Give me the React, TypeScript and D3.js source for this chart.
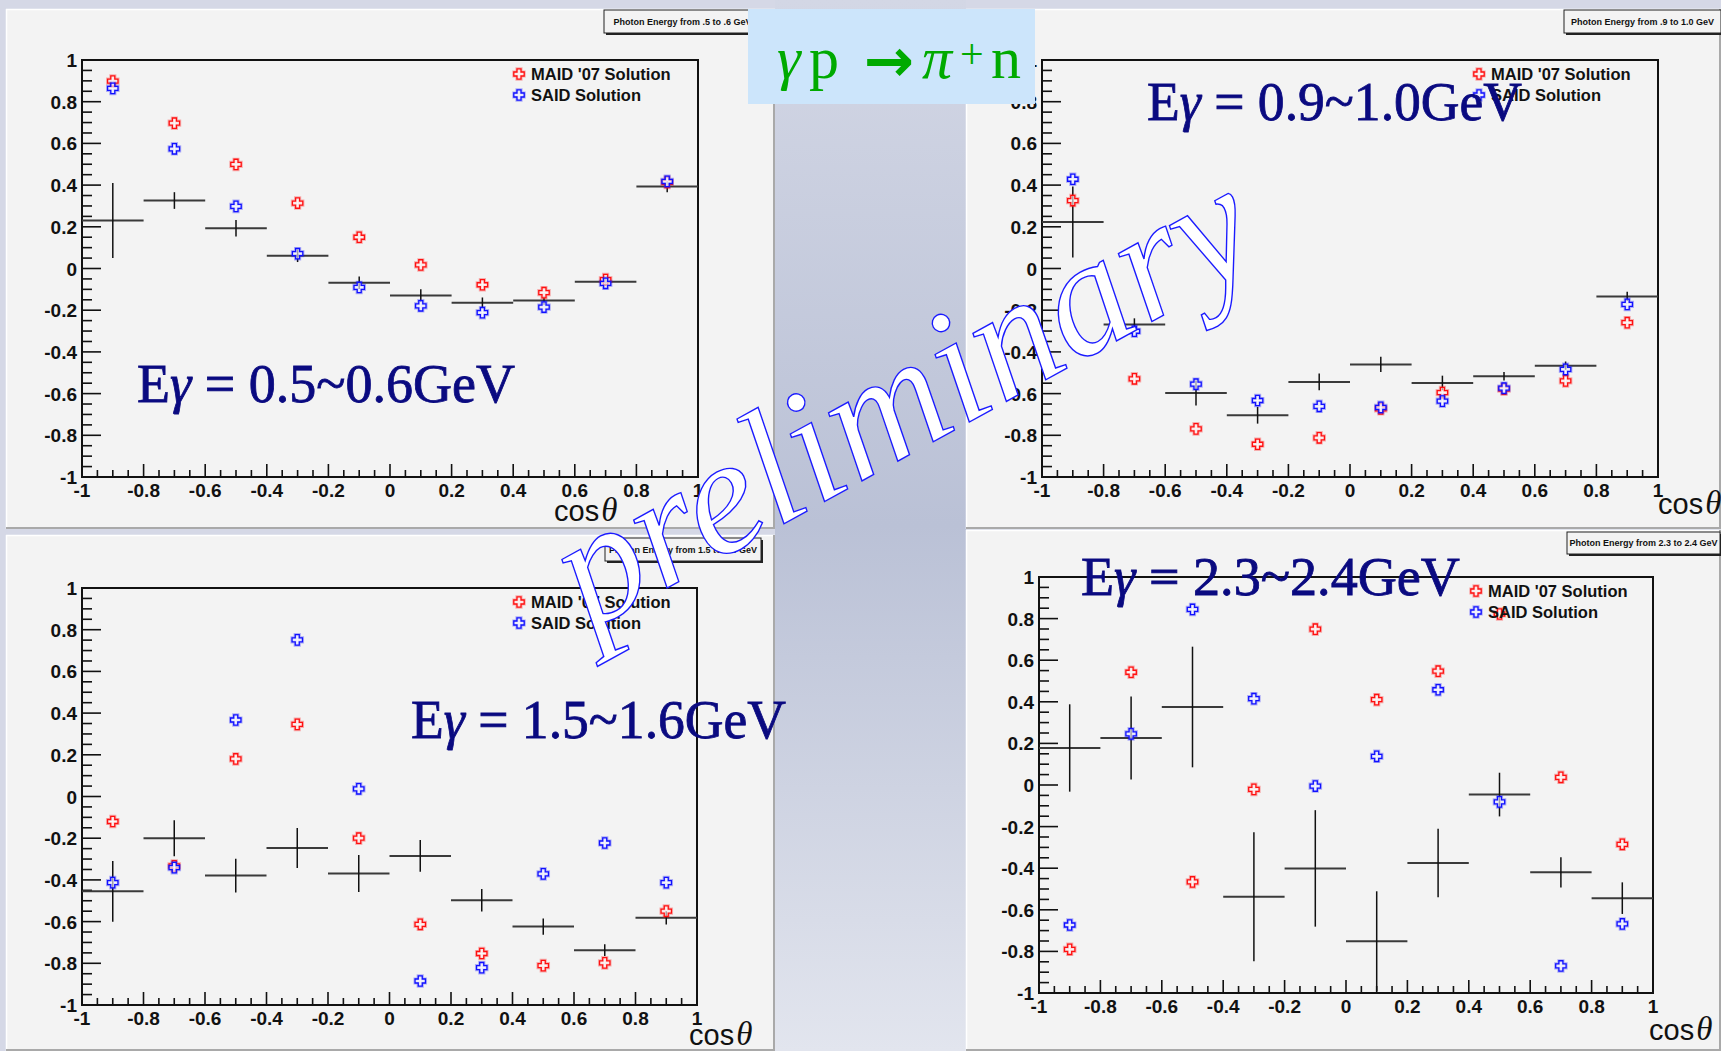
import React from 'react';
import * as d3 from 'd3';

// ---------- data ----------
const cosThetaBins = [-0.9, -0.7, -0.5, -0.3, -0.1, 0.1, 0.3, 0.5, 0.7, 0.9];
const binHalfWidth = 0.1;

// E_gamma = 0.5 ~ 0.6 GeV
const dataE1 = [0.23, 0.326, 0.193, 0.061, -0.068, -0.13, -0.164, -0.154, -0.063, 0.393];
const errE1 = [0.18, 0.04, 0.04, 0.03, 0.03, 0.03, 0.025, 0.02, 0.02, 0.027];
const maidE1 = [0.899, 0.697, 0.499, 0.314, 0.15, 0.017, -0.078, -0.116, -0.053, 0.413];
const saidE1 = [0.864, 0.574, 0.298, 0.071, -0.091, -0.179, -0.212, -0.185, -0.071, 0.418];

// E_gamma = 0.9 ~ 1.0 GeV
const dataE2 = [0.223, -0.269, -0.597, -0.704, -0.544, -0.46, -0.549, -0.517, -0.466, -0.134];
const errE2 = [0.17, 0.03, 0.06, 0.04, 0.04, 0.037, 0.035, 0.02, 0.02, 0.022];
const maidE2 = [0.326, -0.529, -0.769, -0.843, -0.812, -0.673, -0.595, -0.579, -0.539, -0.26];
const saidE2 = [0.428, -0.301, -0.555, -0.633, -0.661, -0.666, -0.636, -0.574, -0.484, -0.172];

// E_gamma = 1.5 ~ 1.6 GeV
const dataE3 = [-0.455, -0.2, -0.379, -0.247, -0.369, -0.285, -0.498, -0.624, -0.737, -0.582];
const errE3 = [0.146, 0.086, 0.081, 0.096, 0.089, 0.076, 0.054, 0.039, 0.028, 0.032];
const maidE3 = [-0.12, -0.333, 0.18, 0.346, -0.2, -0.613, -0.753, -0.811, -0.798, -0.55];
const saidE3 = [-0.413, -0.341, 0.367, 0.751, 0.037, -0.885, -0.821, -0.371, -0.223, -0.413];

// E_gamma = 2.3 ~ 2.4 GeV
const dataE4 = [0.178, 0.226, 0.375, -0.537, -0.401, -0.751, -0.375, -0.046, -0.42, -0.544];
const errE4 = [0.21, 0.2, 0.29, 0.31, 0.28, 0.24, 0.165, 0.105, 0.073, 0.076];
const maidE4 = [-0.79, 0.542, -0.466, -0.021, 0.749, 0.41, 0.547, 0.822, 0.037, -0.285];
const saidE4 = [-0.673, 0.246, 0.844, 0.415, -0.005, 0.138, 0.458, -0.081, -0.87, -0.668];

const padTitles = [
  'Photon Energy from .5 to .6 GeV',
  'Photon Energy from .9 to 1.0 GeV',
  'Photon Energy from 1.5 to 1.6 GeV',
  'Photon Energy from 2.3 to 2.4 GeV',
];
const energyLabels = ['0.5~0.6GeV', '0.9~1.0GeV', '1.5~1.6GeV', '2.3~2.4GeV'];
const legendLabels = ["MAID '07 Solution", 'SAID Solution'];
const axisTitle = 'cos';
const watermark = 'preliminary';

// ---------- layout ----------
const W = 1721;
const H = 1051;

const layouts = [
  { pad: [6, 9, 775, 529], axis: [82, 60, 698, 477], box: [604, 10, 157, 23], label: [137, 402, 378], cos: [554, 521] },
  { pad: [966, 9, 1721, 529], axis: [1042, 60, 1658, 477], box: [1564, 10, 157, 23], label: [1147, 120, 375], cos: [1658, 514] },
  { pad: [6, 535, 775, 1051], axis: [82, 588, 697, 1005], box: [605, 538, 156, 23], label: [411, 738, 375], cos: [689, 1045] },
  { pad: [966, 530, 1721, 1051], axis: [1039, 577, 1653, 993], box: [1567, 532, 153, 22], label: [1081, 595, 379], cos: [1649, 1040] },
];

const panelData = [
  { data: dataE1, err: errE1, maid: maidE1, said: saidE1 },
  { data: dataE2, err: errE2, maid: maidE2, said: saidE2 },
  { data: dataE3, err: errE3, maid: maidE3, said: saidE3 },
  { data: dataE4, err: errE4, maid: maidE4, said: saidE4 },
];

const RED = '#ff1010';
const BLUE = '#1010ff';
const NAVY = '#0a0a80';
const SANS = "'Liberation Sans', Arial, Helvetica, sans-serif";
const SERIF = "'Liberation Serif', 'Times New Roman', serif";

const a = 5.2;
const w = 2;
const crossD = `M${-w},${-a}H${w}V${-w}H${a}V${w}H${w}V${a}H${-w}V${w}H${-a}V${-w}H${-w}Z`;

function Marker({ x, y, color }: { x: number; y: number; color: string }) {
  return (
    <g transform={`translate(${x},${y})`}>
      <path d={crossD} fill="none" stroke={color} strokeOpacity={0.3} strokeWidth={3.2} />
      <path d={crossD} fill="#ffffff" fillOpacity={0.6} stroke={color} strokeWidth={1.3} />
    </g>
  );
}

const fmt = (v: number) => {
  const r = Math.round(v * 10) / 10;
  return r === 0 ? '0' : String(r);
};

function Panel({ idx }: { idx: number }) {
  const lay = layouts[idx];
  const pd = panelData[idx];
  const [ax0, ay0, ax1, ay1] = lay.axis;
  const x = d3.scaleLinear().domain([-1, 1]).range([ax0, ax1]);
  const y = d3.scaleLinear().domain([-1, 1]).range([ay1, ay0]);
  const ticks = d3.range(41).map((i) => ({ v: -1 + i * 0.05, major: i % 4 === 0 }));
  const [px0, py0, px1, py1] = lay.pad;
  const [bx, by, bw, bh] = lay.box;
  const legX = ax0 + 437;
  return (
    <g>
      <rect x={px0} y={py0} width={px1 - px0} height={py1 - py0} fill="#f3f3f3" />
      <line x1={px0} y1={py0 + 0.5} x2={px1} y2={py0 + 0.5} stroke="#ffffff" strokeWidth={1.5} />
      <line x1={px0 + 0.5} y1={py0} x2={px0 + 0.5} y2={py1} stroke="#ffffff" strokeWidth={1.5} />
      <line x1={px0} y1={py1 - 1} x2={px1} y2={py1 - 1} stroke="#a9a9a9" strokeWidth={2} />
      <line x1={px1 - 1} y1={py0} x2={px1 - 1} y2={py1} stroke="#a9a9a9" strokeWidth={2} />

      {/* title box */}
      <rect x={bx + 2} y={by + 2} width={bw} height={bh} fill="#222" />
      <rect x={bx} y={by} width={bw} height={bh} fill="#f3f3f3" stroke="#222" strokeWidth={1} />
      <text x={bx + bw / 2} y={by + bh / 2 + 3} textAnchor="middle" fontFamily={SANS} fontWeight="bold" fontSize={9} fill="#111">
        {padTitles[idx]}
      </text>

      {/* ticks */}
      {ticks.map((t, i) => (
        <line key={'yt' + i} x1={ax0} x2={ax0 + (t.major ? 19 : 10)} y1={y(t.v)} y2={y(t.v)} stroke="#111" strokeWidth={1.6} />
      ))}
      {ticks.map((t, i) => (
        <line key={'xt' + i} y1={ay1} y2={ay1 - (t.major ? 13 : 7)} x1={x(t.v)} x2={x(t.v)} stroke="#111" strokeWidth={1.6} />
      ))}
      {ticks.filter((t) => t.major).map((t, i) => (
        <text key={'yl' + i} x={ax0 - 5} y={y(t.v) + 7} textAnchor="end" fontFamily={SANS} fontWeight="bold" fontSize={19} fill="#111">
          {fmt(t.v)}
        </text>
      ))}
      {ticks.filter((t) => t.major).map((t, i) => (
        <text key={'xl' + i} x={x(t.v)} y={ay1 + 20} textAnchor="middle" fontFamily={SANS} fontWeight="bold" fontSize={19} fill="#111">
          {fmt(t.v)}
        </text>
      ))}
      <rect x={ax0} y={ay0} width={ax1 - ax0} height={ay1 - ay0} fill="none" stroke="#111" strokeWidth={2} />

      {/* axis title */}
      <text x={lay.cos[0]} y={lay.cos[1]} fontFamily={SANS} fontSize={29} fill="#111">
        {axisTitle}
        <tspan dx={2} fontFamily={SERIF} fontStyle="italic" fontSize={33}>θ</tspan>
      </text>

      {/* data with error bars */}
      {cosThetaBins.map((c, i) => (
        <g key={'d' + i}>
          <line x1={x(c - binHalfWidth)} x2={x(c + binHalfWidth)} y1={y(pd.data[i])} y2={y(pd.data[i])} stroke="#3a3a3a" strokeWidth={2} />
          <line x1={x(c)} x2={x(c)} y1={y(pd.data[i] + pd.err[i])} y2={y(pd.data[i] - pd.err[i])} stroke="#111" strokeWidth={1.5} />
        </g>
      ))}
      {cosThetaBins.map((c, i) => (
        <Marker key={'m' + i} x={x(c)} y={y(pd.maid[i])} color={RED} />
      ))}
      {cosThetaBins.map((c, i) => (
        <Marker key={'s' + i} x={x(c)} y={y(pd.said[i])} color={BLUE} />
      ))}

      {/* legend */}
      <Marker x={legX} y={ay0 + 14} color={RED} />
      <Marker x={legX} y={ay0 + 35} color={BLUE} />
      <text x={legX + 12} y={ay0 + 19.5} fontFamily={SANS} fontWeight="bold" fontSize={16.5} fill="#111">{legendLabels[0]}</text>
      <text x={legX + 12} y={ay0 + 40.5} fontFamily={SANS} fontWeight="bold" fontSize={16.5} fill="#111">{legendLabels[1]}</text>
    </g>
  );
}

function EnergyLabel({ idx }: { idx: number }) {
  const [lx, ly, lw] = layouts[idx].label;
  return (
    <text x={lx} y={ly} fontFamily={SERIF} fontSize={54} fill={NAVY} stroke={NAVY} strokeWidth={0.8}
      textLength={lw} lengthAdjust="spacingAndGlyphs">
      E<tspan fontStyle="italic">γ</tspan>{' = ' + energyLabels[idx]}
    </text>
  );
}

export default function App() {
  return (
    <svg width={W} height={H} viewBox={`0 0 ${W} ${H}`} style={{ position: 'absolute', left: 0, top: 0, display: 'block' }}>
      <defs>
        <linearGradient id="strip" x1="0" y1="0" x2="0" y2="1">
          <stop offset="0" stopColor="#d3d7e5" />
          <stop offset="0.5" stopColor="#bac1d6" />
          <stop offset="1" stopColor="#e2e5ee" />
        </linearGradient>
      </defs>
      <rect x={0} y={0} width={W} height={H} fill="#d5d8e6" />
      <rect x={775} y={0} width={191} height={H} fill="url(#strip)" />
      {[0, 1, 2, 3].map((i) => <Panel key={i} idx={i} />)}
      {[0, 1, 2, 3].map((i) => <EnergyLabel key={i} idx={i} />)}

      {/* reaction box */}
      <rect x={748} y={9} width={287} height={95} fill="#cce5fb" />
      <g fill="#00aa00" fontFamily={SERIF}>
        <text x={777} y={78} fontSize={60} fontStyle="italic">γ</text>
        <text x={809} y={78} fontSize={60}>p</text>
        <text x={864} y={81} fontSize={60} fontWeight="bold" fontFamily="'DejaVu Sans', sans-serif">→</text>
        <text x={922} y={78} fontSize={60} fontStyle="italic">π</text>
        <text x={960} y={68} fontSize={42}>+</text>
        <text x={991} y={78} fontSize={60}>n</text>
      </g>

      {/* watermark */}
      <text transform="translate(589,631) rotate(-28.8)" fontFamily={SERIF} fontStyle="italic" fontSize={165}
        fill="#ffffff" stroke="#1a1aff" strokeWidth={1.4}>
        {watermark}
      </text>
    </svg>
  );
}
